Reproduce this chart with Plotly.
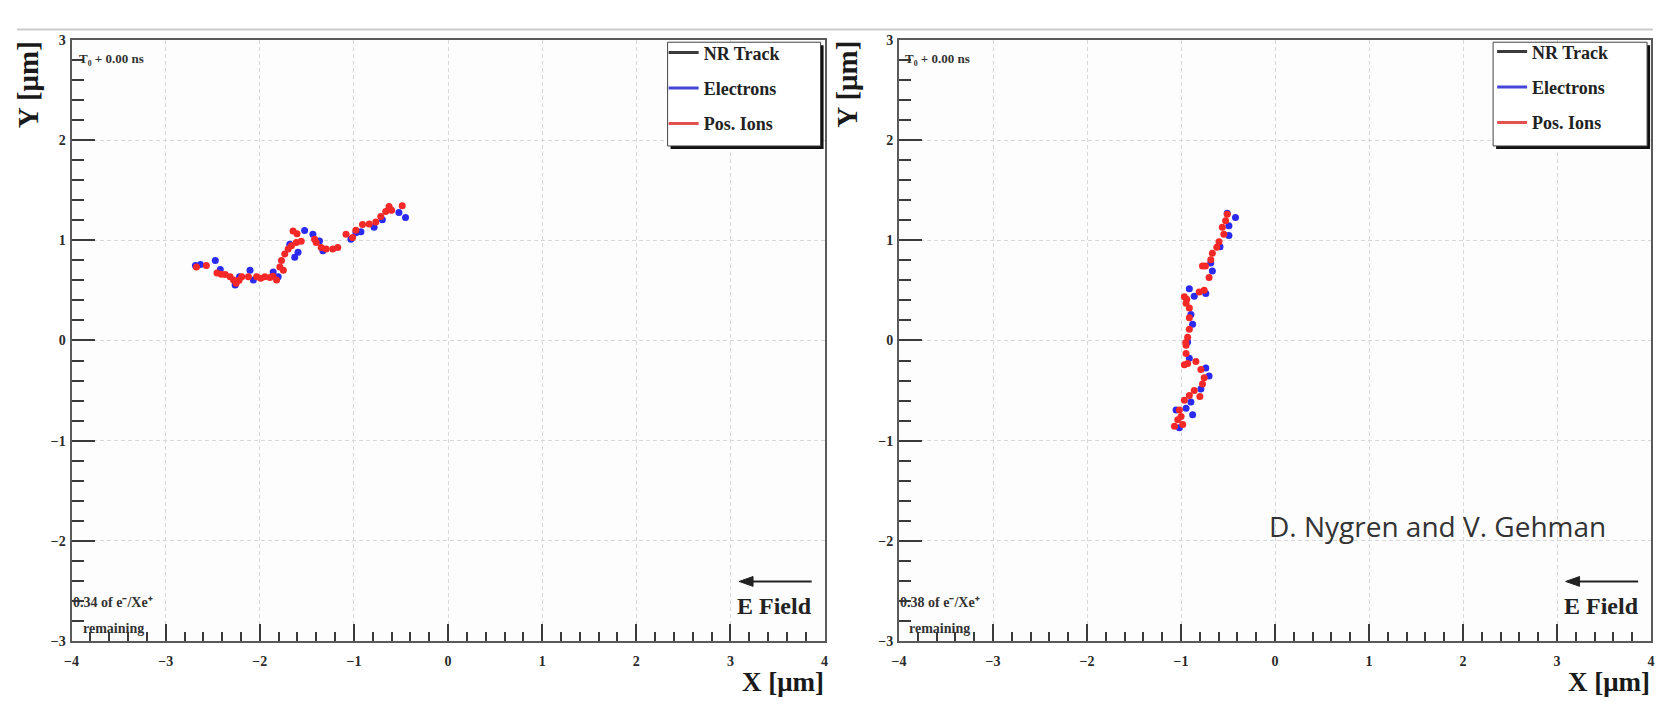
import plotly.graph_objects as go

W, H = 1664, 701
SERIF = "Liberation Serif"

# ---- track snapshot data (micrometres) ----
# left panel: 0.34 of e-/Xe+ remaining
left_ion_x = [-2.673, -2.568, -2.455, -2.367, -2.315, -2.279, -2.251, -2.192, -2.121, -2.033,
              -1.946, -1.893, -1.822, -1.787, -1.770, -1.735, -1.699, -1.664, -1.612, -1.647,
              -1.605, -1.418, -1.401, -1.348, -1.295, -1.225, -1.172, -1.084, -1.014, -0.909,
              -0.838, -0.768, -0.715, -0.663, -0.627, -0.487, -2.410, -1.990, -1.750, -1.560,
              -0.980, -0.600, -2.220, -1.860]
left_ion_y = [0.733, 0.749, 0.674, 0.658, 0.635, 0.603, 0.570, 0.635, 0.635, 0.635,
              0.635, 0.629, 0.603, 0.733, 0.798, 0.863, 0.912, 0.945, 0.977, 1.091,
              1.065, 1.010, 0.977, 0.928, 0.912, 0.912, 0.928, 1.059, 1.026, 1.156,
              1.163, 1.182, 1.238, 1.287, 1.336, 1.345, 0.660, 0.620, 0.700, 0.990,
              1.100, 1.300, 0.600, 0.640]
left_ele_x = [-2.684, -2.631, -2.473, -2.420, -2.262, -2.216, -2.104, -2.069, -1.858, -1.805,
              -1.682, -1.629, -1.594, -1.524, -1.436, -1.366, -1.330, -1.032, -0.979, -0.926,
              -0.786, -0.698, -0.610, -0.522, -0.452]
left_ele_y = [0.749, 0.759, 0.798, 0.707, 0.554, 0.635, 0.700, 0.603, 0.684, 0.635,
              0.961, 0.831, 0.879, 1.098, 1.059, 0.993, 0.896, 1.010, 1.075, 1.085,
              1.130, 1.205, 1.303, 1.277, 1.228]

# right panel: 0.38 of e-/Xe+ remaining
right_ion_x = [-0.509, -0.526, -0.561, -0.545, -0.596, -0.667, -0.684, -0.772, -0.740, -0.702,
               -0.754, -0.807, -0.965, -0.947, -0.912, -0.912, -0.912, -0.930, -0.947, -0.947,
               -0.965, -0.842, -0.789, -0.754, -0.772, -0.860, -0.912, -0.965, -1.018, -1.000,
               -1.035, -1.070, -0.982, -0.930, -0.940, -0.800, -0.620, -0.950]
right_ion_y = [1.258, 1.194, 1.129, 1.060, 0.984, 0.871, 0.806, 0.742, 0.742, 0.629,
               0.500, 0.484, 0.435, 0.371, 0.323, 0.226, 0.113, 0.032, -0.048, -0.129,
               -0.242, -0.210, -0.290, -0.371, -0.435, -0.500, -0.548, -0.597, -0.694, -0.758,
               -0.790, -0.855, -0.839, -0.230, 0.410, -0.560, 0.930, -0.020]
right_ele_x = [-0.509, -0.421, -0.491, -0.491, -0.586, -0.684, -0.667, -0.737, -0.912, -0.860,
               -0.895, -0.877, -0.930, -0.912, -0.737, -0.702, -0.789, -0.895, -0.947, -0.877,
               -1.053, -1.018]
right_ele_y = [1.268, 1.226, 1.145, 1.048, 0.935, 0.774, 0.694, 0.468, 0.516, 0.442,
               0.258, 0.161, -0.016, -0.177, -0.274, -0.355, -0.484, -0.613, -0.677, -0.742,
               -0.694, -0.871]

legend_names = ["NR Track", "Electrons", "Pos. Ions"]
legend_colors = ["#3a3a3a", "#4646d8", "#e25050"]
remaining_labels = ["0.34 of e\u207b/Xe\u207a", "0.38 of e\u207b/Xe\u207a"]
time_label = "T\u2080 + 0.00 ns"

ELE_COLOR = "#2a2af0"
ION_COLOR = "#f52828"


def pxx(p):
    return p / W


def pxy(p):
    return 1 - p / H


fig = go.Figure()

panels = [
    ("x", "y", "legend", left_ele_x, left_ele_y, left_ion_x, left_ion_y),
    ("x2", "y2", "legend2", right_ele_x, right_ele_y, right_ion_x, right_ion_y),
]

for xa, ya, leg, ex, ey, ix, iy in panels:
    # NR track (not visible yet at T0), legend entry only
    for name, col in zip(legend_names, legend_colors):
        fig.add_trace(go.Scatter(
            x=[None], y=[None], mode="lines", name=name,
            line=dict(color=col, width=3), xaxis=xa, yaxis=ya,
            legend=leg, legendgroup=leg + name, showlegend=True, hoverinfo="skip"))
    fig.add_trace(go.Scatter(
        x=ex, y=ey, mode="markers", name="Electrons", showlegend=False,
        marker=dict(color=ELE_COLOR, size=7), xaxis=xa, yaxis=ya))
    fig.add_trace(go.Scatter(
        x=ix, y=iy, mode="markers", name="Pos. Ions", showlegend=False,
        marker=dict(color=ION_COLOR, size=7), xaxis=xa, yaxis=ya))

tickfont = dict(family=SERIF, size=14, color="#2a2a2a", weight="bold")
common_axis = dict(
    showline=True, linecolor="#5a5a5a", linewidth=2, mirror=True,
    ticks="inside", tickcolor="#3a3a3a", tickwidth=2,
    showgrid=True, gridcolor="#d8d8d8", gridwidth=1, griddash="4px,3px",
    zeroline=False, tickfont=tickfont, fixedrange=True,
)
xaxis_cfg = dict(common_axis, range=[-4, 4], dtick=1, tick0=0, ticklen=17,
                 ticklabelstandoff=6,
                 minor=dict(dtick=0.2, ticklen=9, tickwidth=2, tickcolor="#3a3a3a",
                            ticks="inside", showgrid=False))
yaxis_cfg = dict(common_axis, range=[-3, 3], dtick=1, tick0=0, ticklen=23,
                 ticklabelstandoff=1,
                 minor=dict(dtick=0.2, ticklen=12, tickwidth=2, tickcolor="#3a3a3a",
                            ticks="inside", showgrid=False))

y_dom = [pxy(648), pxy(33.5)]
fig.update_layout(
    xaxis=dict(xaxis_cfg, domain=[pxx(65), pxx(823)], anchor="y"),
    yaxis=dict(yaxis_cfg, domain=y_dom, anchor="x"),
    xaxis2=dict(xaxis_cfg, domain=[pxx(898), pxx(1655)], anchor="y2"),
    yaxis2=dict(yaxis_cfg, domain=y_dom, anchor="x2"),
)

legend_cfg = dict(
    xanchor="left", yanchor="top", bgcolor="rgba(0,0,0,0)", borderwidth=0,
    font=dict(family=SERIF, size=18, color="#222222", weight="bold"),
    tracegroupgap=9, itemwidth=30, itemclick=False, itemdoubleclick=False,
)
fig.update_layout(
    legend=dict(legend_cfg, x=pxx(661), y=pxy(28)),
    legend2=dict(legend_cfg, x=pxx(1495), y=pxy(27)),
)

shapes = []
annotations = []

# frame line across the top of the slide
shapes.append(dict(type="line", xref="paper", yref="paper",
                   x0=pxx(10), x1=pxx(1657), y0=pxy(23), y1=pxy(23),
                   line=dict(color="#cccccc", width=2)))

for k, off in enumerate([0, 832]):
    # legend box with drop shadow
    bx0, bx1, by0, by1 = 665 + off - (1 if k else 0), 819 + off, 36, 142
    shapes.append(dict(type="rect", xref="paper", yref="paper", layer="above",
                       x0=pxx(bx0 + 3), x1=pxx(bx1 + 3), y0=pxy(by0 + 3), y1=pxy(by1 + 3),
                       fillcolor="#111111", line=dict(width=0)))
    shapes.append(dict(type="rect", xref="paper", yref="paper", layer="above",
                       x0=pxx(bx0), x1=pxx(bx1), y0=pxy(by0), y1=pxy(by1),
                       fillcolor="#ffffff", line=dict(color="#444444", width=1)))

    # drift field direction arrow
    ax_tip, ax_end, ay = 737 + off, 810 + off, 587
    shapes.append(dict(type="line", xref="paper", yref="paper", layer="above",
                       x0=pxx(ax_tip + 8), x1=pxx(ax_end), y0=pxy(ay), y1=pxy(ay),
                       line=dict(color="#222222", width=2)))
    shapes.append(dict(type="path", xref="paper", yref="paper", layer="above",
                       path=(f"M {pxx(ax_tip)} {pxy(ay)} L {pxx(ax_tip + 14)} {pxy(ay - 5)} "
                             f"L {pxx(ax_tip + 14)} {pxy(ay + 5)} Z"),
                       fillcolor="#222222", line=dict(color="#222222", width=1)))

    # time stamp
    annotations.append(dict(
        xref="paper", yref="paper", x=pxx(70 + off), y=pxy(53),
        xanchor="left", yanchor="middle", showarrow=False,
        text="<b>" + time_label + "</b>",
        font=dict(family=SERIF, size=13, color="#333333")))
    # fraction remaining
    annotations.append(dict(
        xref="paper", yref="paper", x=pxx(107 + off), y=pxy(609),
        xanchor="center", yanchor="middle", showarrow=False,
        text="<b>" + remaining_labels[k] + "</b>",
        font=dict(family=SERIF, size=14, color="#333333")))
    annotations.append(dict(
        xref="paper", yref="paper", x=pxx(107 + off), y=pxy(635),
        xanchor="center", yanchor="middle", showarrow=False,
        text="<b>remaining</b>",
        font=dict(family=SERIF, size=14, color="#333333")))
    annotations.append(dict(
        xref="paper", yref="paper", x=pxx(773 + off), y=pxy(612),
        xanchor="center", yanchor="middle", showarrow=False,
        text="<b>E Field</b>",
        font=dict(family=SERIF, size=24, color="#222222")))
    # axis titles
    annotations.append(dict(
        xref="paper", yref="paper", x=pxx(781 + off), y=pxy(690),
        xanchor="center", yanchor="middle", showarrow=False,
        text="<b>X [μm]</b>",
        font=dict(family=SERIF, size=27, color="#1a1a1a")))
    annotations.append(dict(
        xref="paper", yref="paper", x=pxx(21 + (825 if k else 0)), y=pxy(79),
        xanchor="center", yanchor="middle", showarrow=False, textangle=-90,
        text="<b>Y [μm]</b>",
        font=dict(family=SERIF, size=29, color="#1a1a1a")))

annotations.append(dict(
    xref="paper", yref="paper", x=pxx(1268), y=pxy(530),
    xanchor="left", yanchor="middle", showarrow=False,
    text="D. Nygren and V. Gehman",
    font=dict(family="Open Sans", size=28, color="#333333")))

fig.update_layout(
    width=W, height=H, margin=dict(l=0, r=0, t=0, b=0),
    paper_bgcolor="#ffffff", plot_bgcolor="#fdfdfd",
    shapes=shapes, annotations=annotations, showlegend=True,
)

fig.write_html("out.html", config=dict(displayModeBar=False))
